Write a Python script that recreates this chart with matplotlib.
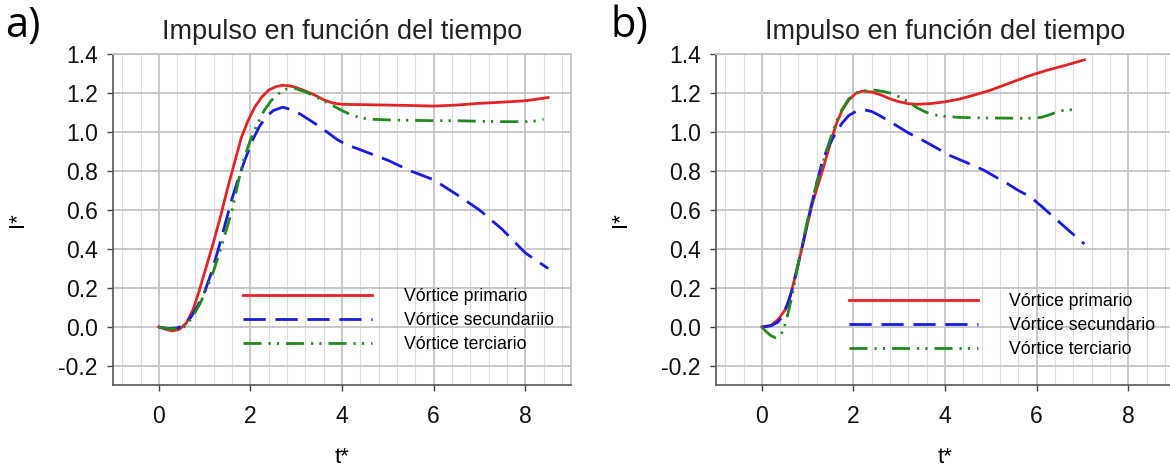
import numpy as np
import matplotlib.pyplot as plt
from matplotlib.ticker import MultipleLocator, FormatStrFormatter

plt.rcParams['font.family'] = ['Liberation Sans', 'DejaVu Sans']
plt.rcParams['axes.unicode_minus'] = False

# panel a) data
ta_prim = [0, 0.15, 0.3, 0.45, 0.6, 0.75, 0.9, 1.05, 1.2, 1.35, 1.5, 1.65, 1.8, 1.95, 2.1, 2.25,
           2.4, 2.55, 2.7, 2.85, 3.0, 3.2, 3.4, 3.6, 3.8, 4.0, 4.5, 5.0, 5.5, 6.0, 6.5, 7.0, 7.5, 8.0, 8.5]
ia_prim = [0, -0.012, -0.02, -0.012, 0.02, 0.09, 0.2, 0.32, 0.44, 0.57, 0.71, 0.84, 0.97, 1.06, 1.13, 1.18,
           1.215, 1.232, 1.24, 1.237, 1.228, 1.21, 1.19, 1.165, 1.148, 1.142, 1.14, 1.138, 1.136, 1.133, 1.138,
           1.147, 1.153, 1.16, 1.177]

ta_sec = [0, 0.2, 0.4, 0.55, 0.7, 0.85, 1.0, 1.15, 1.3, 1.45, 1.6, 1.75, 1.9, 2.05, 2.2, 2.35, 2.5,
          2.7, 2.9, 3.1, 3.3, 3.5, 3.7, 3.9, 4.1, 4.5, 5.0, 5.5, 6.0, 6.5, 7.0, 7.5, 8.0, 8.5]
ia_sec = [0, -0.008, -0.005, 0.01, 0.05, 0.11, 0.18, 0.28, 0.4, 0.53, 0.66, 0.77, 0.87, 0.96, 1.03, 1.08, 1.11,
          1.127, 1.115, 1.09, 1.06, 1.03, 0.995, 0.96, 0.935, 0.9, 0.855, 0.8, 0.755, 0.68, 0.6, 0.5, 0.38, 0.3]

ta_ter = [0, 0.2, 0.4, 0.55, 0.72, 0.9, 1.05, 1.2, 1.35, 1.5, 1.6, 1.75, 1.85, 2.0, 2.15, 2.3, 2.45, 2.6,
          2.8, 3.0, 3.2, 3.4, 3.6, 3.8, 4.0, 4.2, 4.4, 4.6, 5.0, 5.5, 6.0, 6.5, 7.0, 7.5, 8.0, 8.2, 8.4]
ia_ter = [0, -0.008, -0.01, 0.0, 0.045, 0.12, 0.2, 0.29, 0.4, 0.52, 0.6, 0.76, 0.856, 0.96, 1.04, 1.11, 1.16,
          1.195, 1.222, 1.222, 1.205, 1.185, 1.16, 1.135, 1.11, 1.088, 1.073, 1.066, 1.062, 1.06, 1.058, 1.058,
          1.055, 1.053, 1.053, 1.056, 1.066]

# panel b) data
tb_prim = [0, 0.2, 0.36, 0.5, 0.6, 0.73, 0.87, 1.0, 1.1, 1.2, 1.31, 1.42, 1.53, 1.64, 1.75, 1.9, 2.05, 2.2,
           2.4, 2.6, 2.8, 3.0, 3.2, 3.4, 3.7, 4.0, 4.3, 4.6, 5.0, 5.4, 5.8, 6.2, 6.6, 7.04]
ib_prim = [0, 0.008, 0.04, 0.085, 0.14, 0.26, 0.4, 0.53, 0.63, 0.71, 0.79, 0.88, 0.97, 1.05, 1.11, 1.165, 1.198,
           1.21, 1.205, 1.19, 1.17, 1.155, 1.145, 1.142, 1.146, 1.155, 1.168, 1.187, 1.215, 1.25, 1.285, 1.315,
           1.34, 1.37]

tb_sec = [0, 0.2, 0.35, 0.45, 0.55, 0.66, 0.77, 0.87, 0.98, 1.09, 1.2, 1.31, 1.42, 1.53, 1.64, 1.75, 1.9,
          2.05, 2.25, 2.4, 2.55, 2.75, 2.98, 3.2, 3.5, 3.8, 4.1, 4.5, 4.84, 5.1, 5.35, 5.6, 5.86, 6.15, 6.44,
          6.75, 7.04]
ib_sec = [0, 0.006, 0.025, 0.055, 0.11, 0.19, 0.3, 0.4, 0.52, 0.634, 0.74, 0.84, 0.91, 0.96, 1.005, 1.045,
          1.085, 1.105, 1.113, 1.105, 1.087, 1.06, 1.027, 0.995, 0.959, 0.92, 0.88, 0.84, 0.805, 0.77, 0.737,
          0.7, 0.668, 0.61, 0.549, 0.485, 0.426]

tb_ter = [0, 0.1, 0.2, 0.3, 0.4, 0.48, 0.56, 0.65, 0.75, 0.87, 1.0, 1.1, 1.2, 1.31, 1.42, 1.53, 1.64, 1.75,
          1.9, 2.05, 2.2, 2.45, 2.65, 2.84, 3.0, 3.13, 3.28, 3.42, 3.6, 3.78, 4.0, 4.3, 4.62, 5.0, 5.4, 5.79,
          6.1, 6.3, 6.5, 6.7, 6.91]
ib_ter = [0, -0.025, -0.045, -0.055, -0.045, -0.01, 0.06, 0.15, 0.27, 0.41, 0.55, 0.65, 0.74, 0.82, 0.91, 0.99,
          1.06, 1.115, 1.17, 1.2, 1.21, 1.215, 1.208, 1.198, 1.18, 1.164, 1.14, 1.12, 1.1, 1.087, 1.08, 1.075,
          1.073, 1.072, 1.071, 1.07, 1.075, 1.09, 1.108, 1.115, 1.11]

labels_a = ['Vórtice primario', 'Vórtice secundariio', 'Vórtice terciario']
labels_b = ['Vórtice primario', 'Vórtice secundario', 'Vórtice terciario']

red = '#e32424'
blue = '#1a1ae0'
green = '#218a21'
lw = 2.0
dash = (0, (8, 3.5))
dashdotdot = (0, (6.5, 2.5, 0.8, 2.2, 0.8, 2.5))

fig = plt.figure(figsize=(11.7, 4.68), dpi=100)
ax_a = fig.add_axes([0.0966, 0.1763, 0.3915, 0.7083])
ax_b = fig.add_axes([0.612, 0.1763, 0.3915, 0.7083])


def style(ax, title):
    ax.set_xlim(-1, 9)
    ax.set_ylim(-0.3, 1.4)
    ax.xaxis.set_major_locator(MultipleLocator(2))
    ax.xaxis.set_minor_locator(MultipleLocator(0.4))
    ax.yaxis.set_major_locator(MultipleLocator(0.2))
    ax.yaxis.set_major_formatter(FormatStrFormatter('%.1f'))
    ax.grid(which='major', color='#c4c4c4', linewidth=1.3, zorder=0)
    ax.grid(which='minor', axis='x', color='#dddddd', linewidth=0.8, zorder=0)
    ax.set_axisbelow(True)
    ax.tick_params(which='major', direction='out', length=4, width=1, color='#444444',
                   labelsize=16.5, pad=7, labelcolor='#111111')
    ax.tick_params(which='minor', length=0)
    ax.tick_params(axis='x', pad=10)
    for s in ['left', 'bottom']:
        ax.spines[s].set_color('#555555')
        ax.spines[s].set_linewidth(1.2)
    for s in ['top', 'right']:
        ax.spines[s].set_color('#c4c4c4')
        ax.spines[s].set_linewidth(1.3)
    ax.set_title(title, fontsize=19.5, pad=11, color='#222222')
    ax.set_xlabel('t*', fontsize=16, labelpad=14)
    ax.set_ylabel('I*', fontsize=16, labelpad=22)


style(ax_a, 'Impulso en función del tiempo')
ax_a.plot(ta_prim, ia_prim, color=red, lw=lw, label=labels_a[0])
ax_a.plot(ta_sec, ia_sec, color=blue, lw=lw, linestyle=dash, label=labels_a[1])
ax_a.plot(ta_ter, ia_ter, color=green, lw=lw, linestyle=dashdotdot, label=labels_a[2])
ax_a.legend(loc='upper left', bbox_to_anchor=(0.284, 0.293), frameon=False, fontsize=12.7,
            handlelength=7.3, handletextpad=1.8, labelspacing=0.4, borderpad=0, borderaxespad=0)

style(ax_b, 'Impulso en función del tiempo')
ax_b.plot(tb_prim, ib_prim, color=red, lw=lw, label=labels_b[0])
ax_b.plot(tb_sec, ib_sec, color=blue, lw=lw, linestyle=dash, label=labels_b[1])
ax_b.plot(tb_ter, ib_ter, color=green, lw=lw, linestyle=dashdotdot, label=labels_b[2])
ax_b.legend(loc='upper left', bbox_to_anchor=(0.29, 0.278), frameon=False, fontsize=12.7,
            handlelength=7.3, handletextpad=1.8, labelspacing=0.4, borderpad=0, borderaxespad=0)

fig.text(0.004, 0.945, 'a)', fontsize=30, family=['Open Sans', 'DejaVu Sans'], va='center')
fig.text(0.522, 0.945, 'b)', fontsize=30, family=['Open Sans', 'DejaVu Sans'], va='center')

fig.savefig('out.png', dpi=100)
